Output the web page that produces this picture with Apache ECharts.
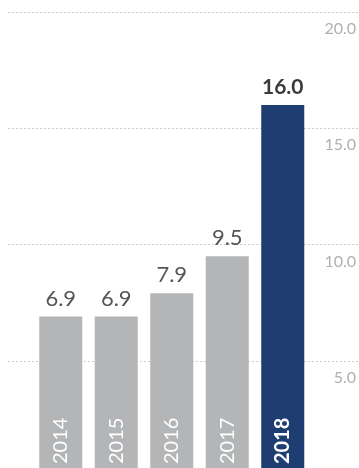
<!DOCTYPE html>
<html>
<head>
<meta charset="utf-8">
<script src="https://cdn.jsdelivr.net/npm/echarts@6/dist/echarts.min.js"></script>
<style>
html,body{margin:0;padding:0;background:#fff;overflow:hidden;width:359px;height:468px;}
#c{width:359px;height:477px;}
</style>
</head>
<body>
<div id="c"></div>
<script>
const categories = ['2014', '2015', '2016', '2017', '2018'];
const values = [6.9, 6.9, 7.9, 9.5, 16.0];
const highlightIndex = 4;
const yTicks = { min: 0, max: 20, interval: 5 };

const GREY = '#b4b5b7';
const NAVY = '#1e3d71';
const FONT = 'Lato, "Noto Sans", sans-serif';

const chart = echarts.init(document.getElementById('c'), null, { renderer: 'canvas' });
chart.setOption({
  animation: false,
  grid: [
    { left: 8, right: 0, top: 12, bottom: 0 },
    { left: 33, right: 48.5, top: 12, bottom: 0 }
  ],
  xAxis: [
    { type: 'category', gridIndex: 0, data: [], show: false },
    {
      type: 'category', gridIndex: 1, data: categories,
      axisLine: { show: false }, axisTick: { show: false },
      axisLabel: {
        inside: true, rotate: 90, margin: 13,
        fontFamily: FONT, fontSize: 20, color: '#fff',
        formatter: (v) => v === categories[highlightIndex] ? '{b|' + v + '}' : v,
        rich: { b: { fontFamily: FONT, fontSize: 20, fontWeight: 'bold', color: '#fff' } }
      },
      z: 10
    }
  ],
  yAxis: [
    {
      type: 'value', gridIndex: 0, position: 'right',
      min: yTicks.min, max: yTicks.max, interval: yTicks.interval,
      axisLine: { show: false }, axisTick: { show: false },
      splitLine: { show: true, lineStyle: { color: '#cdcdcd', type: [2, 2], width: 1 } },
      axisLabel: {
        inside: true, margin: 3, verticalAlign: 'top', padding: [9, 0, 0, 0],
        fontFamily: FONT, fontSize: 16, color: '#b0b0b0',
        formatter: (v) => v === 0 ? '' : v.toFixed(1)
      }
    },
    {
      type: 'value', gridIndex: 1, min: yTicks.min, max: yTicks.max, interval: yTicks.interval,
      show: false, splitLine: { show: false }
    }
  ],
  series: [{
    type: 'bar', xAxisIndex: 1, yAxisIndex: 1, barWidth: 43,
    data: values.map((v, i) => ({
      value: v,
      itemStyle: { color: i === highlightIndex ? NAVY : GREY },
      label: i === highlightIndex
        ? { fontWeight: 'bold', color: '#3a3a3a', fontSize: 21 }
        : {}
    })),
    label: {
      show: true, position: 'top', distance: 7,
      fontFamily: FONT, fontSize: 22, color: '#555',
      formatter: (p) => p.value.toFixed(1)
    }
  }]
});
</script>
</body>
</html>
